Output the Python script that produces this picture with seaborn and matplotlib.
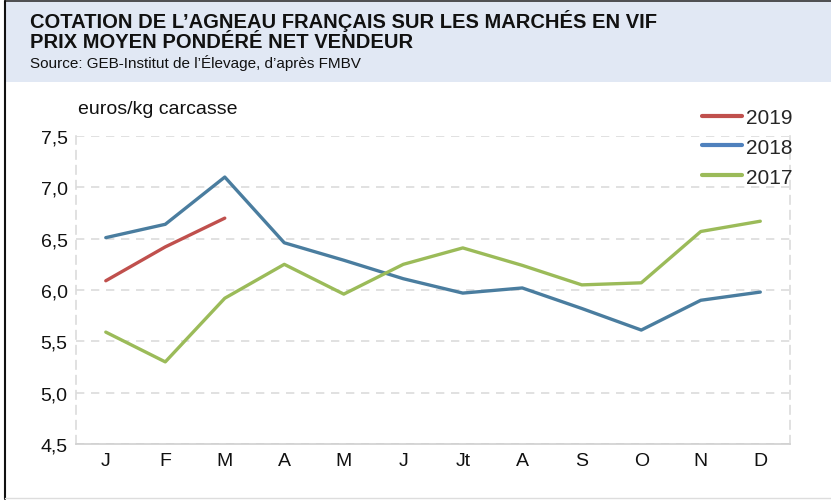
import numpy as np
import pandas as pd
import matplotlib
matplotlib.use("Agg")
import matplotlib.pyplot as plt
from matplotlib.patches import Rectangle
from matplotlib.lines import Line2D
import seaborn as sns

mois = ["J", "F", "M", "A", "M", "J", "Jt", "A", "S", "O", "N", "D"]
prix_2019 = [6.09, 6.42, 6.70]
prix_2018 = [6.51, 6.64, 7.10, 6.46, 6.29, 6.11, 5.97, 6.02, 5.82, 5.61, 5.90, 5.98]
prix_2017 = [5.59, 5.30, 5.92, 6.25, 5.96, 6.25, 6.41, 6.24, 6.05, 6.07, 6.57, 6.67]
annees = ["2019", "2018", "2017"]
couleurs = {"2019": "#c0504d", "2018": "#4a7d9f", "2017": "#9bbb59"}
couleurs_legende = {"2019": "#c0504d", "2018": "#4f81bd", "2017": "#9bbb59"}

rows = []
for an, vals in zip(annees, [prix_2019, prix_2018, prix_2017]):
    for i, v in enumerate(vals):
        rows.append({"mois": i, "prix": v, "annee": an})
df = pd.DataFrame(rows)

sns.set_theme(style="white")
plt.rcParams["font.family"] = ["Liberation Sans Narrow", "Liberation Sans", "DejaVu Sans"]

fig = plt.figure(figsize=(8.31, 5.02), dpi=100)

# bandeau de titre
fig.patches.append(Rectangle((0.006, 0.835), 0.994, 0.165, transform=fig.transFigure,
                             facecolor="#e1e8f4", edgecolor="none", zorder=0))
fig.add_artist(Line2D([0.006, 1], [0.996, 0.996], transform=fig.transFigure, color="#333333", lw=1.2))
fig.add_artist(Line2D([0.0065, 0.0065], [0.004, 0.996], transform=fig.transFigure, color="#111111", lw=1.5))
fig.add_artist(Line2D([0.006, 1], [0.006, 0.006], transform=fig.transFigure, color="#dddddd", lw=1))

fig.text(0.036, 0.958, "COTATION DE L’AGNEAU FRANÇAIS SUR LES MARCHÉS EN VIF",
         fontsize=14.5, fontweight="bold", va="center", color="#111111")
fig.text(0.036, 0.916, "PRIX MOYEN PONDÉRÉ NET VENDEUR",
         fontsize=14.5, fontweight="bold", va="center", color="#111111")
fig.text(0.036, 0.874, "Source: GEB-Institut de l’Élevage, d’après FMBV",
         fontsize=11, va="center", color="#111111")

ax = fig.add_axes([0.0915, 0.1135, 0.8592, 0.6136])
sns.lineplot(data=df, x="mois", y="prix", hue="annee", hue_order=annees,
             palette=couleurs, linewidth=2.4, ax=ax, legend=False, sort=False)

ax.set_xlim(-0.5, 11.5)
ax.set_ylim(4.5, 7.5)
ax.set_xticks(range(12))
ax.set_xticklabels(mois)
yt = np.arange(4.5, 7.51, 0.5)
ax.set_yticks(yt)
ax.set_yticklabels([f"{v:.1f}".replace(".", ",") for v in yt])
ax.tick_params(axis="both", labelsize=14, length=0, colors="#111111")
ax.tick_params(axis="y", pad=6)
ax.tick_params(axis="x", pad=6)
ax.set_xlabel("")
ax.set_ylabel("")

ax.grid(axis="y", color="#dcdcdc", linestyle=(0, (5, 4)), linewidth=1.2)
ax.spines["top"].set_visible(False)
for side in ["left", "right"]:
    ax.spines[side].set_color("#dcdcdc")
    ax.spines[side].set_linestyle((0, (5, 4)))
    ax.spines[side].set_linewidth(1.2)
ax.spines["bottom"].set_color("#d0d0d0")
ax.spines["bottom"].set_linewidth(1.2)

ax.text(0.003, 1.09, "euros/kg carcasse", transform=ax.transAxes,
        fontsize=14, va="center", ha="left", color="#111111")

handles = [Line2D([], [], color=couleurs_legende[a], lw=3) for a in annees]
ax.legend(handles, annees, loc="upper right", bbox_to_anchor=(1.018, 1.125),
          frameon=False, fontsize=15, handlelength=1.9, handletextpad=0.2,
          labelspacing=0.52, borderpad=0)

fig.savefig("out.png", dpi=100)
